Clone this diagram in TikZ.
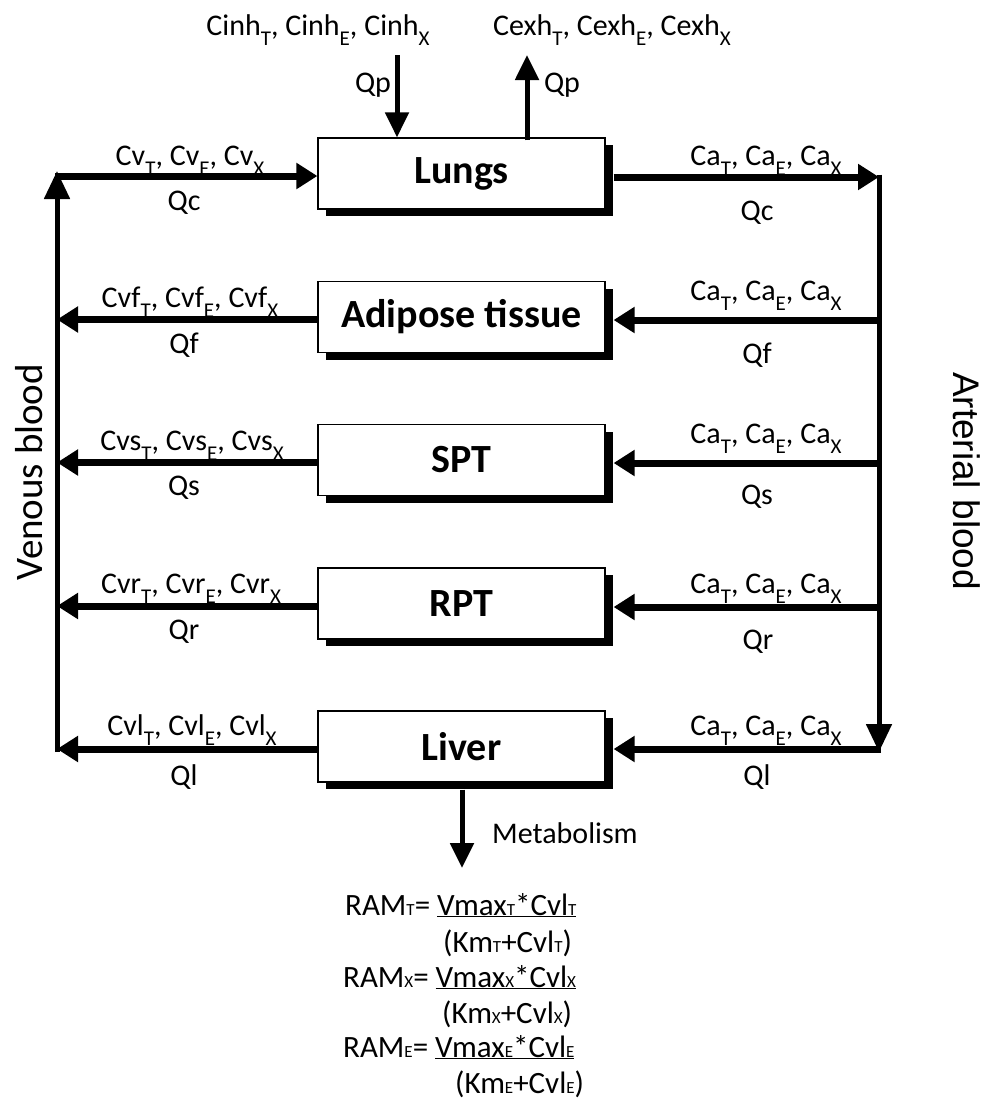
\documentclass[tikz,border=0pt]{standalone}
\usepackage{fontspec}
\setmainfont{Carlito}
\newfontfamily\arialf{Liberation Sans}
\usetikzlibrary{arrows.meta,shadows}
\newcommand\dsub[1]{\raisebox{-10pt}{\fontsize{21}{21}\selectfont #1}}
\newcommand\bsub[1]{{\fontsize{17}{17}\selectfont #1}}
\begin{document}
\begin{tikzpicture}[x=1pt,y=-1pt,
  organ/.style={draw, line width=1.2pt, fill=white, minimum width=287pt, minimum height=71pt, inner sep=0pt,
    font=\bfseries\fontsize{40}{44}\selectfont,
    general shadow={fill=black, shadow xshift=8pt, shadow yshift=-7pt}},
  flow/.style={line width=7pt, -{Triangle[length=21pt,width=25pt]}},
  vline/.style={line width=5pt},
  thin flow/.style={line width=5pt, -{Triangle[length=25pt,width=23pt]}},
  lab/.style={font=\fontsize{30}{33}\selectfont, inner sep=0pt},
  formula/.style={font=\fontsize{31}{33}\selectfont, inner sep=0pt, anchor=base west}]
\path[use as bounding box] (0,0) rectangle (988,1104);

% organ boxes
\node[organ] (lungs) at (461.5,173.5) {Lungs};
\node[organ] (adipose) at (461.5,317) {Adipose tissue};
\node[organ] (spt) at (461.5,460) {SPT};
\node[organ] (rpt) at (461.5,603.5) {RPT};
\node[organ] (liver) at (461.5,746.5) {Liver};

% junction coordinates
\coordinate (vtop) at (57,171);
\coordinate (vbot) at (57,752);
\coordinate (vc) at (55,176);
\coordinate (vf) at (57,319.5);
\coordinate (vs) at (57,462.5);
\coordinate (vr) at (57,606);
\coordinate (vl) at (57,749);
\coordinate (atop) at (879,174.5);
\coordinate (abot) at (879,752);
\coordinate (ac) at (879,177);
\coordinate (af) at (881,320);
\coordinate (as) at (881,463);
\coordinate (ar) at (881,607);
\coordinate (al) at (881,749);
\coordinate (inhtop) at (397,55);
\coordinate (exhtop) at (527,55);
\coordinate (metab) at (462,868);

% left labels
\node[lab, anchor=base] at (190,165) {Cv\dsub{T}, Cv\dsub{E}, Cv\dsub{X}};
\node[lab] at (184,203) {Qc};
\node[lab, anchor=base] at (190,307) {Cvf\dsub{T}, Cvf\dsub{E}, Cvf\dsub{X}};
\node[lab] at (184,345) {Qf};
\node[lab, anchor=base] at (192,450) {Cvs\dsub{T}, Cvs\dsub{E}, Cvs\dsub{X}};
\node[lab] at (184,488) {Qs};
\node[lab, anchor=base] at (191,593) {Cvr\dsub{T}, Cvr\dsub{E}, Cvr\dsub{X}};
\node[lab] at (184,632) {Qr};
\node[lab, anchor=base] at (192,735) {Cvl\dsub{T}, Cvl\dsub{E}, Cvl\dsub{X}};
\node[lab] at (184,777) {Ql};

% right labels
\node[lab, anchor=base] at (766,165) {Ca\dsub{T}, Ca\dsub{E}, Ca\dsub{X}};
\node[lab] at (757,213) {Qc};
\node[lab, anchor=base] at (766,300) {Ca\dsub{T}, Ca\dsub{E}, Ca\dsub{X}};
\node[lab] at (757,355) {Qf};
\node[lab, anchor=base] at (766,443) {Ca\dsub{T}, Ca\dsub{E}, Ca\dsub{X}};
\node[lab] at (757,497) {Qs};
\node[lab, anchor=base] at (766,593) {Ca\dsub{T}, Ca\dsub{E}, Ca\dsub{X}};
\node[lab] at (758,642) {Qr};
\node[lab, anchor=base] at (766,735) {Ca\dsub{T}, Ca\dsub{E}, Ca\dsub{X}};
\node[lab] at (757,777) {Ql};

% top labels
\node[lab, anchor=base] (cinh) at (318,35) {Cinh\dsub{T}, Cinh\dsub{E}, Cinh\dsub{X}};
\node[lab, anchor=base] (cexh) at (612,35) {Cexh\dsub{T}, Cexh\dsub{E}, Cexh\dsub{X}};
\node[lab] at (373,85) {Qp};
\node[lab] at (562,85) {Qp};

% vertical blood lines
\draw[vline, -{Triangle[length=28pt,width=25pt]}] (vbot) -- (vtop);
\draw[vline, -{Triangle[length=28pt,width=25pt]}] (atop) -- (abot);

% lung connections
\draw[flow] (vc) -- (lungs.west |- vc);
\draw[flow] ([xshift=8pt]lungs.east |- ac) -- (ac);
\draw[thin flow] (inhtop) -- (lungs.north -| inhtop);
\draw[thin flow] ([yshift=-3pt]lungs.north -| exhtop) -- (exhtop);

% organ outflows to venous blood
\draw[flow] (adipose.west |- vf) -- (vf);
\draw[flow] (spt.west |- vs) -- (vs);
\draw[flow] (rpt.west |- vr) -- (vr);
\draw[flow] (liver.west |- vl) -- (vl);

% arterial inflows
\draw[flow] (af) -- ([xshift=8pt]adipose.east |- af);
\draw[flow] (as) -- ([xshift=8pt]spt.east |- as);
\draw[flow] (ar) -- ([xshift=8pt]rpt.east |- ar);
\draw[flow] (al) -- ([xshift=8pt]liver.east |- al);

% metabolism
\draw[thin flow] ([yshift=-7pt]liver.south -| metab) -- (metab);
\node[lab, anchor=base west] at (492,843) {Metabolism};

% side labels
\node[rotate=90, font=\fontsize{39}{39}\selectfont, inner sep=0pt] at (29,472) {Venous blood};
\node[rotate=-90, font=\arialf\fontsize{37}{37}\selectfont, inner sep=0pt] at (967,481) {Arterial blood};

% formulas
\node[formula] (ramt) at (345,915) {RAM\bsub{T}= \underline{Vmax\bsub{T}*Cvl\bsub{T}}};
\node[formula] (kmt) at (443,952) {(Km\bsub{T}+Cvl\bsub{T})};
\node[formula] (ramx) at (343,987) {RAM\bsub{X}= \underline{Vmax\bsub{X}*Cvl\bsub{X}}};
\node[formula] (kmx) at (442,1023) {(Km\bsub{X}+Cvl\bsub{X})};
\node[formula] (rame) at (343,1057) {RAM\bsub{E}= \underline{Vmax\bsub{E}*Cvl\bsub{E}}};
\node[formula] (kme) at (455,1093) {(Km\bsub{E}+Cvl\bsub{E})};
\end{tikzpicture}
\end{document}
